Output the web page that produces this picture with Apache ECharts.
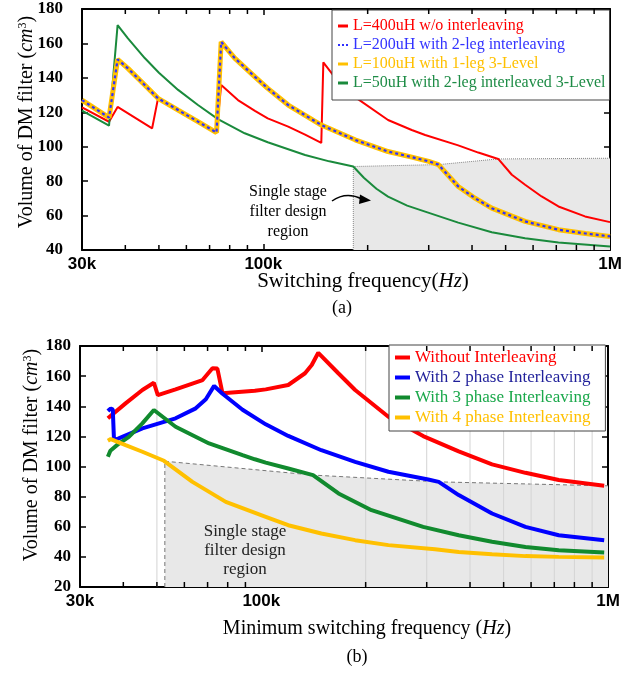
<!DOCTYPE html>
<html>
<head>
<meta charset="utf-8">
<script src="https://cdn.jsdelivr.net/npm/echarts@6/dist/echarts.min.js"></script>
<style>
html,body{margin:0;padding:0;background:#fff;}
#main{width:638px;height:673px;}
</style>
</head>
<body>
<div id="main"></div>
<script>
// x axis (both panels): log scale 30k .. 1M
var xMin = 30000, xMax = 1000000;
var xTickValues = [30000, 100000, 1000000];
var xTickLabels = ['30k', '100k', '1M'];
var minorTicks = [40000,50000,60000,70000,80000,90000,200000,300000,400000,500000,600000,700000,800000,900000];
var gridLinesB = [50000,200000,300000,400000,500000,600000,700000,800000,900000];

// y axes
var yMinA = 40, yMaxA = 180, yMinB = 20, yMaxB = 180, yStep = 20;

// panel (a) - [frequency Hz, volume cm3]
var namesA = ['L=400uH w/o interleaving','L=200uH with 2-leg interleaving','L=100uH with 1-leg 3-Level','L=50uH with 2-leg interleaved 3-Level'];
var aRed = [[30000,122.8],[35900,114.5],[38000,123.1],[47800,110.7],[49700,128.1],[56800,121.3],[64800,114.6],[73300,108.2],[75600,135.8],[84500,127.1],[94600,120.8],[103000,116.5],[118000,111.7],[132000,107.0],[147000,102.2],[149000,149.0],[164600,137.7],[184000,128.8],[229000,115.5],[268000,109.7],[293000,106.8],[365000,100.8],[417000,96.6],[476000,92.9],[521000,83.7],[569000,77.9],[635000,71.1],[710000,65.3],[847000,59.5],[1000000,56.2]];
var aLeg = [[30000,127.1],[35900,116.9],[38000,150.7],[40700,145.5],[45500,135.8],[49700,128.1],[56800,121.3],[64800,114.6],[73300,108.2],[75600,160.9],[82700,151.5],[94600,140.6],[103000,133.9],[118000,124.2],[147000,112.6],[184000,104.0],[229000,97.2],[270000,93.8],[300000,91.5],[320000,89.6],[365000,76.9],[408000,70.1],[456000,64.3],[569000,56.6],[710000,51.8],[850000,49.6],[1000000,47.9]];
var aGreen = [[30000,121.0],[35900,112.2],[38000,170.6],[40700,162.9],[45500,151.5],[50000,143.0],[56800,133.0],[64800,124.2],[74000,116.0],[88400,107.8],[103000,102.6],[132000,95.2],[155000,91.5],[181800,88.5],[195000,82.0],[212000,75.6],[229000,71.0],[260000,65.8],[293000,62.3],[365000,55.9],[456000,50.3],[569000,46.8],[710000,44.4],[1000000,42.1]];
var aShadeTop = [[181800,88.5],[320000,89.6],[476000,92.9],[1000000,93.3]];
var aShadeLeft = [[181800,40],[181800,88.5]];

// panel (b)
var namesB = ['Without Interleaving','With 2 phase Interleaving','With 3 phase Interleaving','With 4 phase Interleaving'];
var bRed = [[36100,132.0],[40600,141.9],[45400,150.8],[49000,155.6],[50300,147.4],[56600,151.2],[67700,157.4],[72300,165.2],[74700,165.0],[77300,148.6],[86000,149.5],[95800,150.3],[103000,151.2],[119600,154.1],[133700,161.9],[139800,167.4],[146000,175.5],[166800,161.9],[186500,150.8],[232600,133.0],[293000,120.2],[371000,110.0],[463000,101.4],[578000,95.8],[721000,91.0],[975000,87.2]];
var bBlue = [[36100,136.8],[36800,138.6],[37300,137.8],[37600,117.5],[38800,118.7],[45400,125.3],[56600,132.0],[64700,138.6],[69200,144.6],[73100,153.5],[77300,148.3],[88300,137.7],[103000,128.0],[119600,120.3],[149000,110.8],[186500,103.1],[232600,96.5],[303000,91.4],[325000,89.8],[371000,81.0],[463000,68.8],[578000,59.9],[721000,54.4],[975000,51.1]];
var bGreen = [[36100,106.4],[36700,110.5],[38500,114.5],[41500,119.7],[45400,128.6],[49000,137.5],[56600,126.4],[70700,115.3],[88300,107.6],[95800,104.8],[103000,102.6],[119600,98.7],[141000,94.3],[167000,82.1],[208000,71.0],[293000,59.9],[371000,54.4],[463000,50.0],[578000,46.6],[721000,44.4],[975000,42.9]];
var bOrange = [[36100,117.1],[36800,118.2],[40600,114.2],[45400,109.8],[52400,103.8],[63300,89.8],[79000,76.5],[103000,66.6],[119600,61.0],[149000,55.5],[186500,51.1],[232600,47.8],[317000,45.0],[371000,43.3],[463000,41.8],[578000,40.5],[721000,40.0],[975000,39.6]];
var bShadeTop = [[52700,103.5],[141000,94.3],[325000,89.8],[975000,87.2],[1000000,87.2]];
var bShadeLeft = [[52700,20],[52700,103.5]];

var serif = 'Liberation Serif';
var chart = echarts.init(document.getElementById('main'));

function freqLabel(v){
	var i = xTickValues.indexOf(Math.round(v));
	return i >= 0 ? xTickLabels[i] : '';
}

function xAxisDef(gi, top){
	return {
		type:'log', gridIndex:gi, position: top ? 'top' : 'bottom', min:xMin, max:xMax, logBase:10,
		axisLine:{show:true, lineStyle:{color:'#000', width:2}},
		axisTick:{show:true, inside:true, length:6, lineStyle:{color:'#000', width:1.5}},
		axisLabel:{show:!top, formatter:freqLabel, fontFamily:'Liberation Sans', fontWeight:'bold', fontSize:17, color:'#000', margin:6},
		splitLine:{show:false}, minorTick:{show:false}
	};
}

function yAxisDef(gi, right, mn, mx, margin){
	return {
		type:'value', gridIndex:gi, position: right ? 'right' : 'left', min:mn, max:mx, interval:yStep,
		axisLine:{show:true, lineStyle:{color:'#000', width:2}},
		axisTick:{show:true, inside:true, length:6, lineStyle:{color:'#000', width:1.5}},
		axisLabel:{show:!right, fontFamily:serif, fontWeight:'bold', fontSize:17, color:'#000', margin:margin},
		splitLine:{show:false}
	};
}

function tickSeries(xi, yi, lo, hi){
	return {
		type:'custom', xAxisIndex:xi, yAxisIndex:yi, silent:true, z:6,
		data: minorTicks.map(function(f){ return [f, lo]; }),
		renderItem: function(params, api){
			var b = api.coord([api.value(0), lo]);
			var t = api.coord([api.value(0), hi]);
			return {type:'group', children:[
				{type:'line', shape:{x1:b[0], y1:b[1], x2:b[0], y2:b[1]-5}, style:{stroke:'#000', lineWidth:1.5}},
				{type:'line', shape:{x1:t[0], y1:t[1], x2:t[0], y2:t[1]+5}, style:{stroke:'#000', lineWidth:1.5}}
			]};
		}
	};
}

function curve(name, data, xi, yi, color, width, type, z){
	return {
		name:name, type:'line', xAxisIndex:xi, yAxisIndex:yi, data:data, symbol:'none', showSymbol:false,
		lineStyle:{color:color, width:width, type:type || 'solid'}, itemStyle:{color:color}, z:z || 3
	};
}

var dotIcon = 'path://M0,0h2v2h-2zM4,0h2v2h-2zM8,0h2v2h-2z';

var option = {
	animation:false,
	backgroundColor:'#fff',
	grid:[
		{left:82, top:9, width:528, height:241, outerBoundsMode:'none', containLabel:false},
		{left:80, top:346, width:528, height:241, outerBoundsMode:'none', containLabel:false}
	],
	xAxis:[xAxisDef(0,false), xAxisDef(0,true), xAxisDef(1,false), xAxisDef(1,true)],
	yAxis:[yAxisDef(0,false,yMinA,yMaxA,19), yAxisDef(0,true,yMinA,yMaxA,8), yAxisDef(1,false,yMinB,yMaxB,9), yAxisDef(1,true,yMinB,yMaxB,8)],
	legend:[
		{
			left:332, top:10, orient:'vertical', itemGap:3, itemWidth:10, itemHeight:3, icon:'rect',
			padding:[8,4,9,6], borderColor:'#444', borderWidth:1, backgroundColor:'#fff',
			textStyle:{fontFamily:serif, fontSize:16},
			data:[
				{name:namesA[0], textStyle:{color:'#ff0000'}},
				{name:namesA[1], icon:dotIcon, textStyle:{color:'#3333ff'}},
				{name:namesA[2], textStyle:{color:'#ffc000'}},
				{name:namesA[3], textStyle:{color:'#1e8c46'}}
			]
		},
		{
			left:389, top:345, orient:'vertical', itemGap:3, itemWidth:15, itemHeight:4, icon:'rect',
			padding:[4,15,5,6], borderColor:'#444', borderWidth:1, backgroundColor:'#fff',
			textStyle:{fontFamily:serif, fontSize:17},
			data:[
				{name:namesB[0], textStyle:{color:'#ff0000'}},
				{name:namesB[1], textStyle:{color:'#1f1f9a'}},
				{name:namesB[2], textStyle:{color:'#1aa84a'}},
				{name:namesB[3], textStyle:{color:'#ffc000'}}
			]
		}
	],
	series:[
		// shaded single stage regions
		{type:'line', xAxisIndex:0, yAxisIndex:0, data:aShadeTop, symbol:'none', silent:true, z:1,
		 lineStyle:{color:'#888', width:1, type:'dotted'}, areaStyle:{color:'#e8e8e8', opacity:1, origin:'start'}},
		{type:'line', xAxisIndex:0, yAxisIndex:0, data:aShadeLeft, symbol:'none', silent:true, z:1,
		 lineStyle:{color:'#888', width:1, type:'dotted'}},
		{type:'line', xAxisIndex:2, yAxisIndex:2, data:bShadeTop, symbol:'none', silent:true, z:1,
		 lineStyle:{color:'#777', width:1, type:[4,3]}, areaStyle:{color:'#e8e8e8', opacity:1, origin:'start'}},
		{type:'line', xAxisIndex:2, yAxisIndex:2, data:bShadeLeft, symbol:'none', silent:true, z:1,
		 lineStyle:{color:'#777', width:1, type:[4,3]}},
		// faint vertical grid in (b)
		{type:'custom', xAxisIndex:2, yAxisIndex:2, silent:true, z:2,
		 data: gridLinesB.map(function(f){ return [f, yMinB]; }),
		 renderItem: function(params, api){
			var b = api.coord([api.value(0), yMinB]);
			var t = api.coord([api.value(0), yMaxB]);
			return {type:'line', shape:{x1:b[0], y1:b[1], x2:t[0], y2:t[1]}, style:{stroke:'#d4d4d4', lineWidth:1}};
		 }},
		tickSeries(0, 0, yMinA, yMaxA),
		tickSeries(2, 2, yMinB, yMaxB),
		// panel (a)
		curve(namesA[0], aRed, 0, 0, '#ff0000', 2, 'solid', 3),
		curve(namesA[3], aGreen, 0, 0, '#1a8a3c', 2, 'solid', 3),
		curve(namesA[2], aLeg, 0, 0, '#ffc000', 5, 'solid', 4),
		curve(namesA[1], aLeg, 0, 0, '#3030ff', 2.2, [3,3], 5),
		// panel (b)
		curve(namesB[0], bRed, 2, 2, '#ff0000', 4, 'solid', 3),
		curve(namesB[1], bBlue, 2, 2, '#0000ff', 4, 'solid', 3),
		curve(namesB[2], bGreen, 2, 2, '#118a2e', 4, 'solid', 3),
		curve(namesB[3], bOrange, 2, 2, '#ffc000', 4, 'solid', 3)
	],
	graphic:[
		{type:'text', x:27, y:122, rotation:Math.PI/2, z:10, style:{
			text:'{t|Volume of DM filter (}{i|cm}{s|3}{t|)}', align:'center', verticalAlign:'middle',
			rich:{t:{fontFamily:serif, fontSize:20, fill:'#000'}, i:{fontFamily:serif, fontSize:20, fontStyle:'italic', fill:'#000'},
				s:{fontFamily:serif, fontSize:12, fill:'#000', verticalAlign:'top'}}}},
		{type:'text', x:32, y:455, rotation:Math.PI/2, z:10, style:{
			text:'{t|Volume of DM filter (}{i|cm}{s|3}{t|)}', align:'center', verticalAlign:'middle',
			rich:{t:{fontFamily:serif, fontSize:20, fill:'#000'}, i:{fontFamily:serif, fontSize:20, fontStyle:'italic', fill:'#000'},
				s:{fontFamily:serif, fontSize:12, fill:'#000', verticalAlign:'top'}}}},
		{type:'text', x:363, y:281, z:10, style:{
			text:'{t|Switching frequency(}{i|Hz}{t|)}', align:'center', verticalAlign:'middle',
			rich:{t:{fontFamily:serif, fontSize:21, fill:'#000'}, i:{fontFamily:serif, fontSize:21, fontStyle:'italic', fill:'#000'}}}},
		{type:'text', x:367, y:629, z:10, style:{
			text:'{t|Minimum switching frequency (}{i|Hz}{t|)}', align:'center', verticalAlign:'middle',
			rich:{t:{fontFamily:serif, fontSize:20, fill:'#000'}, i:{fontFamily:serif, fontSize:20, fontStyle:'italic', fill:'#000'}}}},
		{type:'text', x:342, y:308, z:10, style:{text:'(a)', font:'18px "Liberation Serif"', fill:'#000', align:'center', verticalAlign:'middle'}},
		{type:'text', x:357, y:657, z:10, style:{text:'(b)', font:'18px "Liberation Serif"', fill:'#000', align:'center', verticalAlign:'middle'}},
		{type:'text', x:288, y:212, z:10, style:{text:'Single stage\nfilter design\nregion', font:'16px "Liberation Serif"', lineHeight:20, fill:'#000', align:'center', verticalAlign:'middle'}},
		{type:'text', x:245, y:551, z:10, style:{text:'Single stage\nfilter design\nregion', font:'17px "Liberation Serif"', lineHeight:19, fill:'#222', align:'center', verticalAlign:'middle'}},
		{type:'bezierCurve', z:10, shape:{x1:332, y1:201, cpx1:346, cpy1:191, x2:362, y2:199}, style:{stroke:'#000', lineWidth:1.5, fill:null}},
		{type:'polygon', z:10, shape:{points:[[360,194.5],[371,200.5],[359,204]]}, style:{fill:'#000'}}
	]
};

chart.setOption(option);
</script>
</body>
</html>
